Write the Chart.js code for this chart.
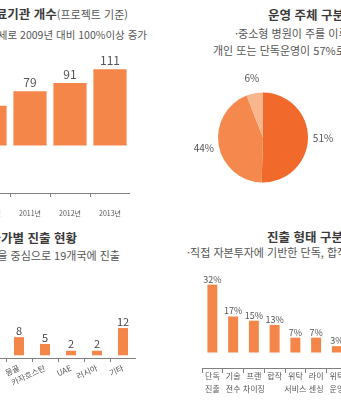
<!DOCTYPE html>
<html lang="ko">
<head>
<meta charset="utf-8">
<script src="https://cdn.jsdelivr.net/npm/chart.js@4.4.1/dist/chart.umd.min.js"></script>
<style>
html, body { margin: 0; padding: 0; }
body { width: 341px; height: 400px; overflow: hidden; background: #fff; position: relative; font-family: 'Noto Sans CJK KR', sans-serif; }
.box { position: absolute; }
.t { position: absolute; white-space: nowrap; font-size: 12.5px; font-weight: bold; color: #3a3a3a; line-height: 14px; }
.t small { font-size: 11px; font-weight: normal; color: #555; }
.s { position: absolute; white-space: nowrap; font-size: 11px; color: #555; line-height: 13px; }
</style>
</head>
<body>

<div class="t" style="right:213px; top:7px;">의료기관 개수<small>(프로젝트 기준)</small></div>
<div class="s" style="right:194px; top:28px; font-size:10.5px;">·매년 꾸준한 증가세로 2009년 대비 100%이상 증가</div>

<div class="t" style="left:268px; top:8px;">운영 주체 구분</div>
<div class="s" style="left:235px; top:27px;">·중소형 병원이 주를 이루며</div>
<div class="s" style="left:213px; top:44px;">개인 또는 단독운영이 57%로 가장 많음</div>

<div class="t" style="right:264px; top:231px;">국가별 진출 현황</div>
<div class="s" style="right:221px; top:249px;">·미국, 중국을 중심으로 19개국에 진출</div>

<div class="t" style="left:267px; top:230px;">진출 형태 구분</div>
<div class="s" style="left:187px; top:246px;">·직접 자본투자에 기반한 단독, 합작 진출이 대부분</div>

<div class="box" style="left:-70px; top:50px; width:200px; height:173px;"><canvas id="years"></canvas></div>
<div class="box" style="left:178px; top:62px; width:170px; height:150px;"><canvas id="owners"></canvas></div>
<div class="box" style="left:-46px; top:270px; width:182px; height:130px;"><canvas id="countries"></canvas></div>
<div class="box" style="left:202px; top:270px; width:166px; height:130px;"><canvas id="types"></canvas></div>

<script>
// 연도별 의료기관 개수
const yearLabels = ['2009년', '2010년', '2011년', '2012년', '2013년'];
const hospitalCounts = [54, 58, 79, 91, 111];

// 운영 주체 구분 (%)
const ownerLabels = ['단독 운영', '공동 운영', '기타'];
const ownerShares = [51, 44, 6];

// 국가별 진출 현황
const countryLabels = ['중국', '미국', '몽골', '카자흐스탄', 'UAE', '러시아', '기타'];
const countryCounts = [33, 22, 8, 5, 2, 2, 12];

// 진출 형태 구분 (%)
const typeLabels = [['단독', '진출'], ['기술', '전수'], ['프랜', '차이징'], ['합작'], ['위탁', '서비스'], ['라이', '센싱'], ['위탁', '운영'], ['기타']];
const typeShares = [32, 17, 15, 13, 7, 7, 3, 6];

Chart.defaults.font.family = "'Noto Sans CJK KR', sans-serif";
Chart.defaults.color = '#555';

var BAR = '#f5864a';
var AXIS = '#808080';

// 막대 위에 값 표시
var valueLabels = {
    id: 'valueLabels',
    afterDatasetsDraw: function(chart, args, opts) {
        var ctx = chart.ctx;
        var data = chart.data.datasets[0].data;
        ctx.save();
        ctx.font = opts.font;
        ctx.fillStyle = opts.color;
        ctx.textAlign = 'center';
        ctx.textBaseline = 'bottom';
        chart.getDatasetMeta(0).data.forEach(function(bar, i) {
            ctx.fillText(data[i] + (opts.suffix || ''), bar.x, bar.y - opts.offset);
        });
        ctx.restore();
    }
};

// 파이 조각 바깥에 % 표시
var pieLabels = {
    id: 'pieLabels',
    afterDatasetsDraw: function(chart, args, opts) {
        var ctx = chart.ctx;
        var data = chart.data.datasets[0].data;
        ctx.save();
        ctx.font = opts.font;
        ctx.fillStyle = opts.color;
        ctx.textAlign = 'center';
        ctx.textBaseline = 'middle';
        chart.getDatasetMeta(0).data.forEach(function(arc, i) {
            var p = arc.getProps(['x', 'y', 'startAngle', 'endAngle', 'outerRadius'], true);
            var a = (p.startAngle + p.endAngle) / 2;
            var r = p.outerRadius + opts.offset;
            ctx.fillText(data[i] + '%', p.x + Math.cos(a) * r, p.y + Math.sin(a) * r);
        });
        ctx.restore();
    }
};

function xAxis(fontSize, tickLength, padding, height, rotation, lineHeight) {
    return {
        offset: true,
        grid: { offset: true, drawOnChartArea: false, tickLength: tickLength, color: AXIS },
        border: { color: AXIS },
        ticks: { color: '#555', font: { size: fontSize, lineHeight: lineHeight || 1.2 }, padding: padding,
                 minRotation: rotation, maxRotation: rotation, autoSkip: false },
        afterFit: function(s) { s.height = height; s.paddingLeft = 0; s.paddingRight = 0; }
    };
}

function baseOptions(extra) {
    return Object.assign({
        animation: false,
        responsive: true,
        maintainAspectRatio: false,
        layout: { padding: 0 }
    }, extra);
}

new Chart(document.getElementById('years'), {
    type: 'bar',
    data: { labels: yearLabels, datasets: [{ data: hospitalCounts, backgroundColor: BAR, categoryPercentage: 1, barPercentage: 0.83 }] },
    options: baseOptions({
        plugins: { legend: { display: false }, tooltip: { enabled: false },
                   valueLabels: { font: "12px 'Noto Sans CJK KR'", color: '#555', offset: 3 } },
        scales: { x: xAxis(7, 4, 12, 30, 0), y: { display: false, min: -69, max: 139 } }
    }),
    plugins: [valueLabels]
});

new Chart(document.getElementById('owners'), {
    type: 'pie',
    data: { labels: ownerLabels, datasets: [{ data: ownerShares, backgroundColor: ['#f26a2b', '#f5894d', '#f8b68e'], borderWidth: 0 }] },
    options: baseOptions({
        layout: { padding: { left: 40, right: 40, top: 30.5, bottom: 29.5 } },
        plugins: { legend: { display: false }, tooltip: { enabled: false },
                   pieLabels: { font: "10px 'Noto Sans CJK KR'", color: '#555', offset: 15 } }
    }),
    plugins: [pieLabels]
});

new Chart(document.getElementById('countries'), {
    type: 'bar',
    data: { labels: countryLabels, datasets: [{ data: countryCounts, backgroundColor: BAR, categoryPercentage: 1, barPercentage: 0.385 }] },
    options: baseOptions({
        plugins: { legend: { display: false }, tooltip: { enabled: false },
                   valueLabels: { font: "11px 'Noto Sans CJK KR'", color: '#444', offset: 1 } },
        scales: { x: xAxis(8, 4, 1, 42, 25), y: { display: false, min: -1.2, max: 37.6 } }
    }),
    plugins: [valueLabels]
});

new Chart(document.getElementById('types'), {
    type: 'bar',
    data: { labels: typeLabels, datasets: [{ data: typeShares, backgroundColor: BAR, categoryPercentage: 1, barPercentage: 0.48 }] },
    options: baseOptions({
        plugins: { legend: { display: false }, tooltip: { enabled: false },
                   valueLabels: { font: "9px 'Noto Sans CJK KR'", color: '#555', offset: 1, suffix: '%' } },
        scales: { x: xAxis(8, 5, -3, 32, 0, 1.6), y: { display: false, min: -7.3, max: 38.9 } }
    }),
    plugins: [valueLabels]
});
</script>
</body>
</html>
